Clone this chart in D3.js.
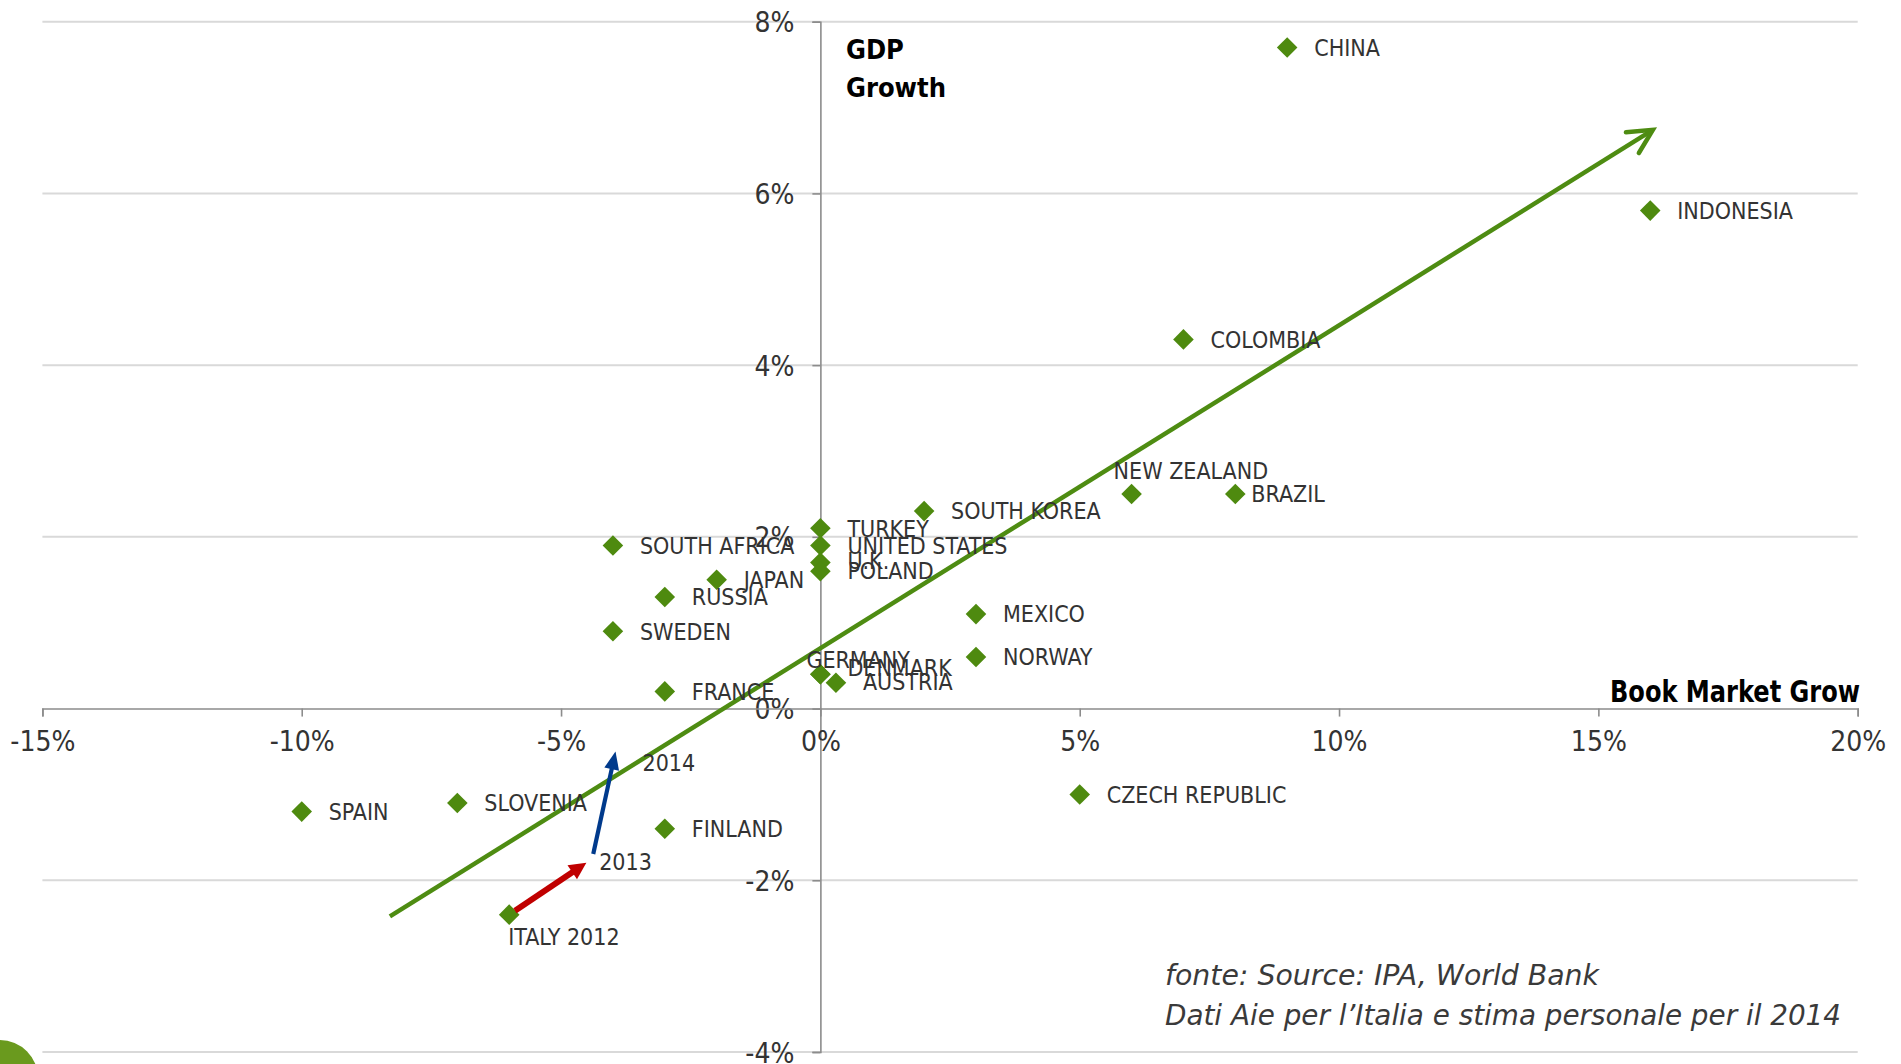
<!DOCTYPE html>
<html>
<head>
<meta charset="utf-8">
<script src="https://cdn.jsdelivr.net/npm/d3@7"></script>
<style>
  html, body { margin: 0; padding: 0; background: #fff; overflow: hidden; }
  svg { display: block; }
  text { font-family: "DejaVu Sans Condensed", "DejaVu Sans", sans-serif; font-stretch: condensed; }
</style>
</head>
<body>
<svg id="chart" width="1901" height="1064"></svg>
<script>
// Book market growth (x, %) against GDP growth (y, %) by country
const countries = [
  "CHINA", "INDONESIA", "COLOMBIA", "NEW ZEALAND", "BRAZIL", "SOUTH KOREA",
  "TURKEY", "UNITED STATES", "U.K.", "POLAND", "SOUTH AFRICA", "JAPAN",
  "RUSSIA", "SWEDEN", "MEXICO", "NORWAY", "GERMANY", "DENMARK", "AUSTRIA",
  "FRANCE", "CZECH REPUBLIC", "SPAIN", "SLOVENIA", "FINLAND"
];
const bookGrowth = [
  9, 16, 7, 6, 8, 2,
  0, 0, 0, 0, -4, -2,
  -3, -4, 3, 3, 0, 0, 0.3,
  -3, 5, -10, -7, -3
];
const gdpGrowth = [
  7.7, 5.8, 4.3, 2.5, 2.5, 2.3,
  2.1, 1.9, 1.7, 1.6, 1.9, 1.5,
  1.3, 0.9, 1.1, 0.6, 0.4, 0.4, 0.3,
  0.2, -1.0, -1.2, -1.1, -1.4
];

// Italy's path 2012 -> 2013 -> 2014 (2014 estimated)
const italyLabels = ["ITALY 2012", "2013", "2014"];
const italyBook = [-6, -4.4, -3.95];
const italyGdp = [-2.4, -1.75, -0.5];

// Trend arrow end points
const trendBook = [-8.3, 16.05];
const trendGdp = [-2.42, 6.74];

const xTicks = [-15, -10, -5, 0, 5, 10, 15, 20];
const yTicks = [-4, -2, 0, 2, 4, 6, 8];

const xTitle = "Book Market Grow";
const yTitle = ["GDP", "Growth"];
const sourceLines = [
  "fonte: Source: IPA, World Bank",
  "Dati Aie per l\u2019Italia e stima personale per il 2014"
];

// ---- layout ----
const svg = d3.select("#chart");
const x = d3.scaleLinear().domain([-15, 20]).range([42.4, 1857.7]);
const y = d3.scaleLinear().domain([-4, 8]).range([1052, 21.7]);

const GREEN = "#4e8a0f";
const TEXT = "#333";

// label placement (label start x offset, vertical offset of text centre)
const labelPos = {
  "NEW ZEALAND": [-18, -23],
  "BRAZIL": [16, 0],
  "GERMANY": [-14, -15],
  "DENMARK": [27, -6.5],
  "AUSTRIA": [27, -1],
  "U.K.": [27, -2]
};

// horizontal grid
svg.append("g")
  .selectAll("line")
  .data(yTicks.filter(d => d !== 0))
  .join("line")
  .attr("x1", x(-15)).attr("x2", x(20))
  .attr("y1", d => y(d)).attr("y2", d => y(d))
  .attr("stroke", "#d9d9d9").attr("stroke-width", 2);

// y axis through x = 0
const yAxis = svg.append("g")
  .attr("transform", `translate(${x(0)},0)`)
  .call(d3.axisLeft(y).tickValues(yTicks).tickSize(8).tickPadding(18)
    .tickFormat(d => d + "%"));
yAxis.select(".domain").attr("stroke", "#8c8c8c").attr("stroke-width", 1.6);
yAxis.selectAll(".tick line").attr("stroke", "#8c8c8c").attr("stroke-width", 1.6);
yAxis.selectAll(".tick text")
  .attr("fill", TEXT).attr("font-size", 28).attr("dy", "0.36em");

// x axis through y = 0
const xAxis = svg.append("g")
  .attr("transform", `translate(0,${y(0)})`)
  .call(d3.axisBottom(x).tickValues(xTicks).tickSize(8).tickPadding(14)
    .tickFormat(d => d + "%"));
xAxis.select(".domain").attr("stroke", "#8c8c8c").attr("stroke-width", 1.6);
xAxis.selectAll(".tick line").attr("stroke", "#8c8c8c").attr("stroke-width", 1.6);
xAxis.selectAll(".tick text")
  .attr("fill", TEXT).attr("font-size", 28).attr("dy", "0.72em");

// axis titles
svg.append("text")
  .attr("x", 846).attr("y", 59)
  .attr("font-size", 27).attr("font-weight", "bold").attr("fill", "#000")
  .selectAll("tspan").data(yTitle).join("tspan")
  .attr("x", 846).attr("dy", (d, i) => i === 0 ? 0 : 38)
  .text(d => d);

svg.append("text")
  .attr("x", 1860).attr("y", 702)
  .attr("text-anchor", "end")
  .attr("font-size", 31).attr("font-weight", "bold").attr("fill", "#000")
  .attr("textLength", 250).attr("lengthAdjust", "spacingAndGlyphs")
  .text(xTitle);

// arrow helper
function arrow(g, x1, y1, x2, y2, o) {
  const ang = Math.atan2(y2 - y1, x2 - x1);
  const c = Math.cos(ang), s = Math.sin(ang);
  if (o.open) {
    g.append("line")
      .attr("x1", x1).attr("y1", y1).attr("x2", x2).attr("y2", y2)
      .attr("stroke", o.color).attr("stroke-width", o.width);
    const p = d3.path();
    const a1 = ang + Math.PI - o.spread, a2 = ang + Math.PI + o.spread;
    p.moveTo(x2 + o.head * Math.cos(a1), y2 + o.head * Math.sin(a1));
    p.lineTo(x2, y2);
    p.lineTo(x2 + o.head * Math.cos(a2), y2 + o.head * Math.sin(a2));
    g.append("path").attr("d", p.toString())
      .attr("fill", "none").attr("stroke", o.color).attr("stroke-width", o.width)
      .attr("stroke-linecap", "round").attr("stroke-linejoin", "miter");
  } else {
    const bx = x2 - o.head * c, by = y2 - o.head * s;
    g.append("line")
      .attr("x1", x1).attr("y1", y1).attr("x2", bx + c).attr("y2", by + s)
      .attr("stroke", o.color).attr("stroke-width", o.width);
    const hw = o.headW / 2;
    g.append("path")
      .attr("d", `M${x2},${y2}L${bx - hw * s},${by + hw * c}L${bx + hw * s},${by - hw * c}Z`)
      .attr("fill", o.color);
  }
}

// trend arrow
const arrows = svg.append("g");
arrow(arrows, x(trendBook[0]), y(trendGdp[0]), x(trendBook[1]), y(trendGdp[1]),
  { color: "#4e8c12", width: 4.5, open: true, head: 27, spread: 0.47 });

// markers (diamonds)
const diamond = d3.symbol().type(d3.symbolDiamond2).size(270);
const pts = countries.map((c, i) => ({ name: c, bx: bookGrowth[i], gy: gdpGrowth[i] }));

svg.append("g")
  .selectAll("path")
  .data(pts)
  .join("path")
  .attr("d", diamond)
  .attr("transform", d => `translate(${x(d.bx)},${y(d.gy)})`)
  .attr("fill", GREEN);

// Italy marker (2012)
svg.append("path")
  .attr("d", diamond)
  .attr("transform", `translate(${x(italyBook[0])},${y(italyGdp[0])})`)
  .attr("fill", GREEN);

// Italy path: 2012 -> 2013 (red), 2013 -> 2014 (blue)
{
  const p0 = [x(italyBook[0]), y(italyGdp[0])];
  const p1 = [x(italyBook[1]), y(italyGdp[1])];
  const p2 = [x(italyBook[2]), y(italyGdp[2])];
  const gap = 7;
  const d01 = Math.hypot(p1[0] - p0[0], p1[1] - p0[1]);
  const e01 = [p1[0] - (p1[0] - p0[0]) / d01 * gap, p1[1] - (p1[1] - p0[1]) / d01 * gap];
  const s0 = [p0[0] + (p1[0] - p0[0]) / d01 * 7, p0[1] + (p1[1] - p0[1]) / d01 * 7];
  arrow(arrows, s0[0], s0[1], e01[0], e01[1],
    { color: "#c00000", width: 6, head: 17, headW: 17 });
  const d12 = Math.hypot(p2[0] - p1[0], p2[1] - p1[1]);
  const s12 = [p1[0] + (p2[0] - p1[0]) / d12 * 5, p1[1] + (p2[1] - p1[1]) / d12 * 5];
  arrow(arrows, s12[0], s12[1], p2[0], p2[1],
    { color: "#003a8c", width: 4.2, head: 18, headW: 15 });
}
arrows.raise();

// country labels
svg.append("g")
  .selectAll("text")
  .data(pts)
  .join("text")
  .attr("x", d => x(d.bx) + (labelPos[d.name] ? labelPos[d.name][0] : 27))
  .attr("y", d => y(d.gy) + (labelPos[d.name] ? labelPos[d.name][1] : 0))
  .attr("dy", "0.36em")
  .attr("font-size", 23)
  .attr("fill", TEXT)
  .text(d => d.name);

// Italy labels
const italyLabelPos = [[-1, 22], [7, 3], [27, 11.5]];
svg.append("g")
  .selectAll("text")
  .data(italyLabels)
  .join("text")
  .attr("x", (d, i) => x(italyBook[i]) + italyLabelPos[i][0])
  .attr("y", (d, i) => y(italyGdp[i]) + italyLabelPos[i][1])
  .attr("dy", "0.36em")
  .attr("font-size", 23)
  .attr("fill", TEXT)
  .text(d => d);

// source note
const srcWidths = [434, 676];
svg.append("g")
  .selectAll("text")
  .data(sourceLines)
  .join("text")
  .attr("x", 1165)
  .attr("y", (d, i) => 985 + i * 40)
  .attr("font-size", 28)
  .attr("font-style", "italic")
  .attr("fill", "#3a3a3a")
  .attr("textLength", (d, i) => srcWidths[i])
  .attr("lengthAdjust", "spacingAndGlyphs")
  .text(d => d);

// corner badge
svg.append("circle")
  .attr("cx", 0).attr("cy", 1078).attr("r", 38)
  .attr("fill", "#6a9a1e");
</script>
</body>
</html>
